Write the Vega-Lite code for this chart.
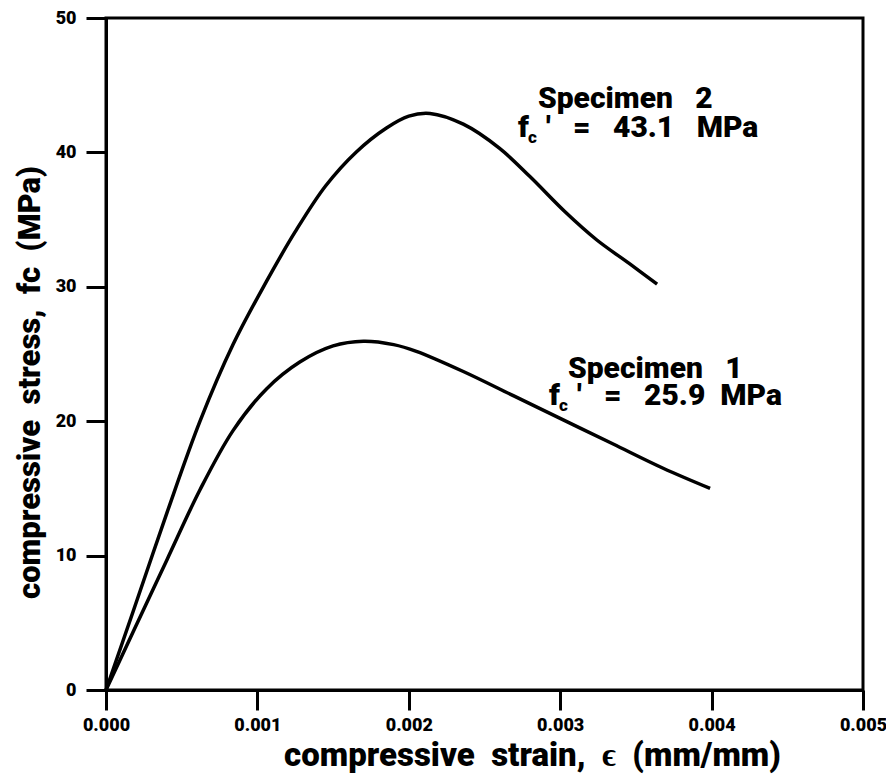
{
  "$schema": "https://vega.github.io/schema/vega-lite/v6.json",
  "width": 757,
  "height": 672,
  "autosize": "none",
  "padding": {"left": 106, "top": 18, "right": 23, "bottom": 91},
  "background": "white",
  "config": {
    "view": {"stroke": "black", "strokeWidth": 3},
    "font": "Roboto",
    "text": {"font": "Roboto", "fontWeight": 900, "color": "black"}
  },
  "datasets": {
    "curves": [
      {"specimen": "Specimen 2", "strain": 0, "stress": 0},
      {"specimen": "Specimen 2", "strain": 0.000178, "stress": 5.8},
      {"specimen": "Specimen 2", "strain": 0.000403, "stress": 13.2},
      {"specimen": "Specimen 2", "strain": 0.000621, "stress": 20.0},
      {"specimen": "Specimen 2", "strain": 0.000839, "stress": 25.7},
      {"specimen": "Specimen 2", "strain": 0.00106, "stress": 30.4},
      {"specimen": "Specimen 2", "strain": 0.00125, "stress": 34.1},
      {"specimen": "Specimen 2", "strain": 0.00145, "stress": 37.5},
      {"specimen": "Specimen 2", "strain": 0.00165, "stress": 40.0},
      {"specimen": "Specimen 2", "strain": 0.00185, "stress": 41.8},
      {"specimen": "Specimen 2", "strain": 0.002, "stress": 42.7},
      {"specimen": "Specimen 2", "strain": 0.00214, "stress": 42.9},
      {"specimen": "Specimen 2", "strain": 0.00236, "stress": 42.1},
      {"specimen": "Specimen 2", "strain": 0.0026, "stress": 40.3},
      {"specimen": "Specimen 2", "strain": 0.0028, "stress": 38.2},
      {"specimen": "Specimen 2", "strain": 0.00303, "stress": 35.6},
      {"specimen": "Specimen 2", "strain": 0.00324, "stress": 33.5},
      {"specimen": "Specimen 2", "strain": 0.00346, "stress": 31.7},
      {"specimen": "Specimen 2", "strain": 0.00364, "stress": 30.2},
      {"specimen": "Specimen 1", "strain": 0, "stress": 0},
      {"specimen": "Specimen 1", "strain": 0.000178, "stress": 4.3},
      {"specimen": "Specimen 1", "strain": 0.000403, "stress": 9.7},
      {"specimen": "Specimen 1", "strain": 0.000621, "stress": 14.9},
      {"specimen": "Specimen 1", "strain": 0.000839, "stress": 19.3},
      {"specimen": "Specimen 1", "strain": 0.00106, "stress": 22.4},
      {"specimen": "Specimen 1", "strain": 0.00128, "stress": 24.4},
      {"specimen": "Specimen 1", "strain": 0.0015, "stress": 25.6},
      {"specimen": "Specimen 1", "strain": 0.0017, "stress": 25.95},
      {"specimen": "Specimen 1", "strain": 0.0019, "stress": 25.7},
      {"specimen": "Specimen 1", "strain": 0.00205, "stress": 25.2},
      {"specimen": "Specimen 1", "strain": 0.00236, "stress": 23.7},
      {"specimen": "Specimen 1", "strain": 0.00269, "stress": 21.9},
      {"specimen": "Specimen 1", "strain": 0.00302, "stress": 20.1},
      {"specimen": "Specimen 1", "strain": 0.00335, "stress": 18.3},
      {"specimen": "Specimen 1", "strain": 0.00368, "stress": 16.5},
      {"specimen": "Specimen 1", "strain": 0.00399, "stress": 15.0}
    ],
    "titles": [
      {"strain": 0.002853, "stress": 43.3, "label": "Specimen\u00a0\u00a0\u00a02"},
      {"strain": 0.003051, "stress": 23.2, "label": "Specimen\u00a0\u00a0\u00a01"}
    ],
    "strengths": [
      {"strain": 0.002721, "stress": 41.15, "label": "'\u00a0\u00a0\u00a0=\u00a0\u00a0\u00a043.1\u00a0\u00a0\u00a0MPa"},
      {"strain": 0.002926, "stress": 21.2, "label": "'\u00a0\u00a0\u00a0=\u00a0\u00a0\u00a025.9\u00a0\u00a0MPa"}
    ]
  },
  "encoding": {
    "x": {
      "field": "strain",
      "type": "quantitative",
      "scale": {"domain": [0, 0.005], "nice": false, "zero": false},
      "axis": {
        "values": [0, 0.001, 0.002, 0.003, 0.004, 0.005],
        "format": ".3f",
        "grid": false,
        "labelFlush": false,
        "labelOverlap": false,
        "labelFont": "Roboto",
        "labelFontSize": 18,
        "labelFontWeight": 900,
        "labelColor": "black",
        "labelPadding": 6,
        "tickSize": 20,
        "tickWidth": 3,
        "tickColor": "black",
        "domainColor": "black",
        "domainWidth": 3,
        "title": "compressive\u00a0\u00a0strain,\u00a0\u00a0ϵ\u00a0\u00a0(mm/mm)",
        "titleFont": "Roboto",
        "titleFontSize": 33,
        "titleFontWeight": 900,
        "titleColor": "black",
        "titleX": 426,
        "titleY": 75,
        "titleAlign": "center",
        "titleBaseline": "alphabetic"
      }
    },
    "y": {
      "field": "stress",
      "type": "quantitative",
      "scale": {"domain": [0, 50], "nice": false},
      "axis": {
        "values": [0, 10, 20, 30, 40, 50],
        "grid": false,
        "labelFont": "Roboto",
        "labelFontSize": 18,
        "labelFontWeight": 900,
        "labelColor": "black",
        "labelPadding": 10,
        "tickSize": 20,
        "tickWidth": 3,
        "tickColor": "black",
        "domainColor": "black",
        "domainWidth": 3,
        "title": "compressive\u00a0\u00a0stress,\u00a0\u00a0fc\u00a0\u00a0(MPa)",
        "titleFont": "Roboto",
        "titleFontSize": 31,
        "titleFontWeight": 900,
        "titleColor": "black",
        "titleAngle": -90,
        "titleX": -76,
        "titleY": 364,
        "titleAlign": "center",
        "titleBaseline": "middle"
      }
    }
  },
  "layer": [
    {
      "data": {"name": "curves"},
      "mark": {"type": "line", "color": "black", "strokeWidth": 3.5, "interpolate": "catmull-rom"},
      "encoding": {"detail": {"field": "specimen"}}
    },
    {
      "data": {"name": "titles"},
      "mark": {"type": "text", "align": "left", "baseline": "alphabetic", "fontSize": 30},
      "encoding": {"text": {"field": "label"}}
    },
    {
      "data": {"name": "strengths"},
      "mark": {"type": "text", "align": "left", "baseline": "alphabetic", "fontSize": 30, "text": "f"},
      "encoding": {}
    },
    {
      "data": {"name": "strengths"},
      "mark": {"type": "text", "align": "left", "baseline": "alphabetic", "fontSize": 17, "text": "c", "dx": 10, "dy": 6},
      "encoding": {}
    },
    {
      "data": {"name": "strengths"},
      "mark": {"type": "text", "align": "left", "baseline": "alphabetic", "fontSize": 30, "dx": 28},
      "encoding": {"text": {"field": "label"}}
    }
  ]
}
